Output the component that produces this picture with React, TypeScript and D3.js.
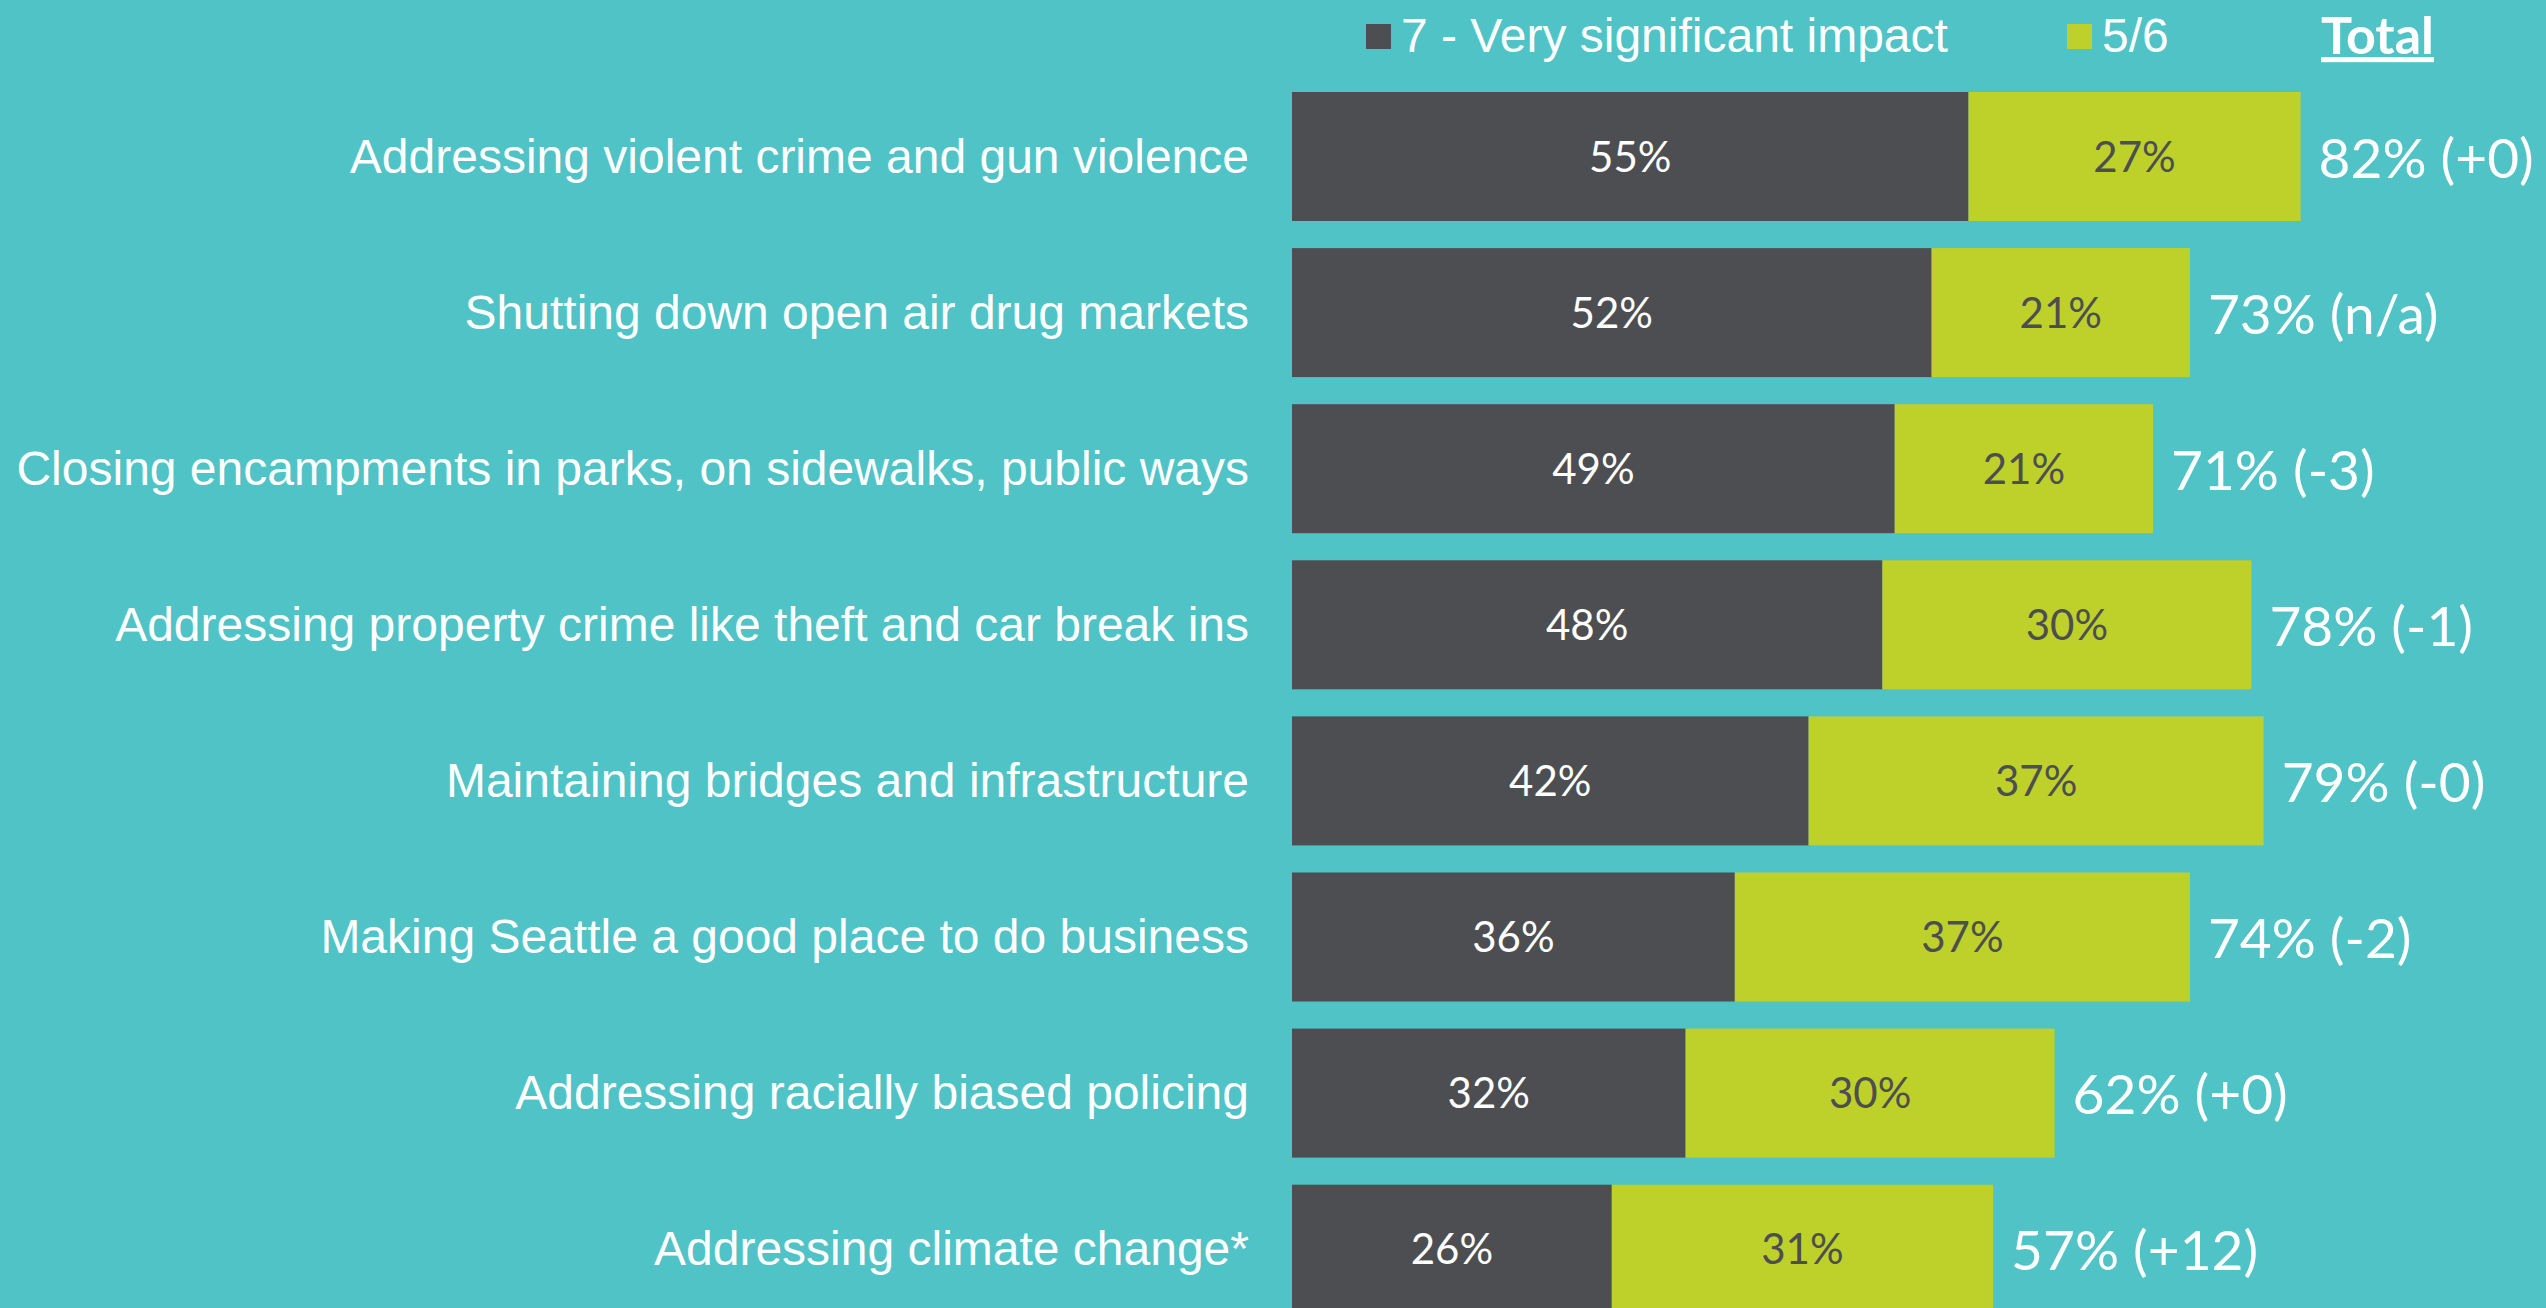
import React from "react";
import * as d3 from "d3";

const categories = [
  "Addressing violent crime and gun violence",
  "Shutting down open air drug markets",
  "Closing encampments in parks, on sidewalks, public ways",
  "Addressing property crime like theft and car break ins",
  "Maintaining bridges and infrastructure",
  "Making Seattle a good place to do business",
  "Addressing racially biased policing",
  "Addressing climate change*",
];
const veryImpact = [55, 52, 49, 48, 42, 36, 32, 26];
const impact56 = [27, 21, 21, 30, 37, 37, 30, 31];
const totals = [82, 73, 71, 78, 79, 74, 62, 57];
const changes = ["+0", "n/a", "-3", "-1", "-0", "-2", "+0", "+12"];
const legendLabels = ["7 - Very significant impact", "5/6"];
const totalHeader = "Total";

const W = 2546;
const H = 1308;
const BG = "#4FC3C6";
const DARK = "#4D4E51";
const GREEN = "#BED12A";
const LABEL_FONT = "'Liberation Sans', Arial, sans-serif";
const NUM_FONT = "Lato, 'Open Sans', sans-serif";

export default function App() {
  const x = d3.scaleLinear().domain([0, 100]).range([1292, 2522]);
  const y = d3
    .scaleBand<string>()
    .domain(categories)
    .range([92, 1313.7])
    .paddingInner(0.1736)
    .paddingOuter(0);
  const bw = y.bandwidth();

  return (
    <svg
      width={W}
      height={H}
      style={{ position: "absolute", left: 0, top: 0, display: "block" }}
    >
      <rect x={0} y={0} width={W} height={H} fill={BG} />
      {/* legend */}
      <rect x={1366} y={24} width={25} height={25} fill={DARK} />
      <text x={1401} y={52} fill="#fff" fontSize={48} fontFamily={LABEL_FONT}>
        {legendLabels[0]}
      </text>
      <rect x={2067} y={24} width={25} height={25} fill={GREEN} />
      <text x={2102} y={52} fill="#fff" fontSize={48} fontFamily={LABEL_FONT}>
        {legendLabels[1]}
      </text>
      <text
        x={2321}
        y={54}
        fill="#fff"
        fontSize={52}
        fontWeight={700}
        fontFamily={NUM_FONT}
        textDecoration="underline"
      >
        {totalHeader}
      </text>
      {categories.map((c, i) => {
        const y0 = y(c)!;
        const cy = y0 + bw / 2;
        const v1 = veryImpact[i];
        const v2 = impact56[i];
        return (
          <g key={c}>
            <text
              x={1249}
              y={cy + 16}
              textAnchor="end"
              fill="#fff"
              fontSize={48}
              fontFamily={LABEL_FONT}
            >
              {c}
            </text>
            <rect x={x(0)} y={y0} width={x(v1) - x(0)} height={bw} fill={DARK} />
            <rect
              x={x(v1)}
              y={y0}
              width={x(v1 + v2) - x(v1)}
              height={bw}
              fill={GREEN}
            />
            <text
              x={(x(0) + x(v1)) / 2}
              y={cy + 15}
              textAnchor="middle"
              fill="#fff"
              fontSize={42}
              fontFamily={NUM_FONT}
            >
              {v1}%
            </text>
            <text
              x={(x(v1) + x(v1 + v2)) / 2}
              y={cy + 15}
              textAnchor="middle"
              fill={DARK}
              fontSize={42}
              fontFamily={NUM_FONT}
            >
              {v2}%
            </text>
            <text
              x={x(v1 + v2) + 18}
              y={cy + 21}
              fill="#fff"
              fontSize={55}
              fontFamily={NUM_FONT}
            >
              {`${totals[i]}% (${changes[i]})`}
            </text>
          </g>
        );
      })}
    </svg>
  );
}
